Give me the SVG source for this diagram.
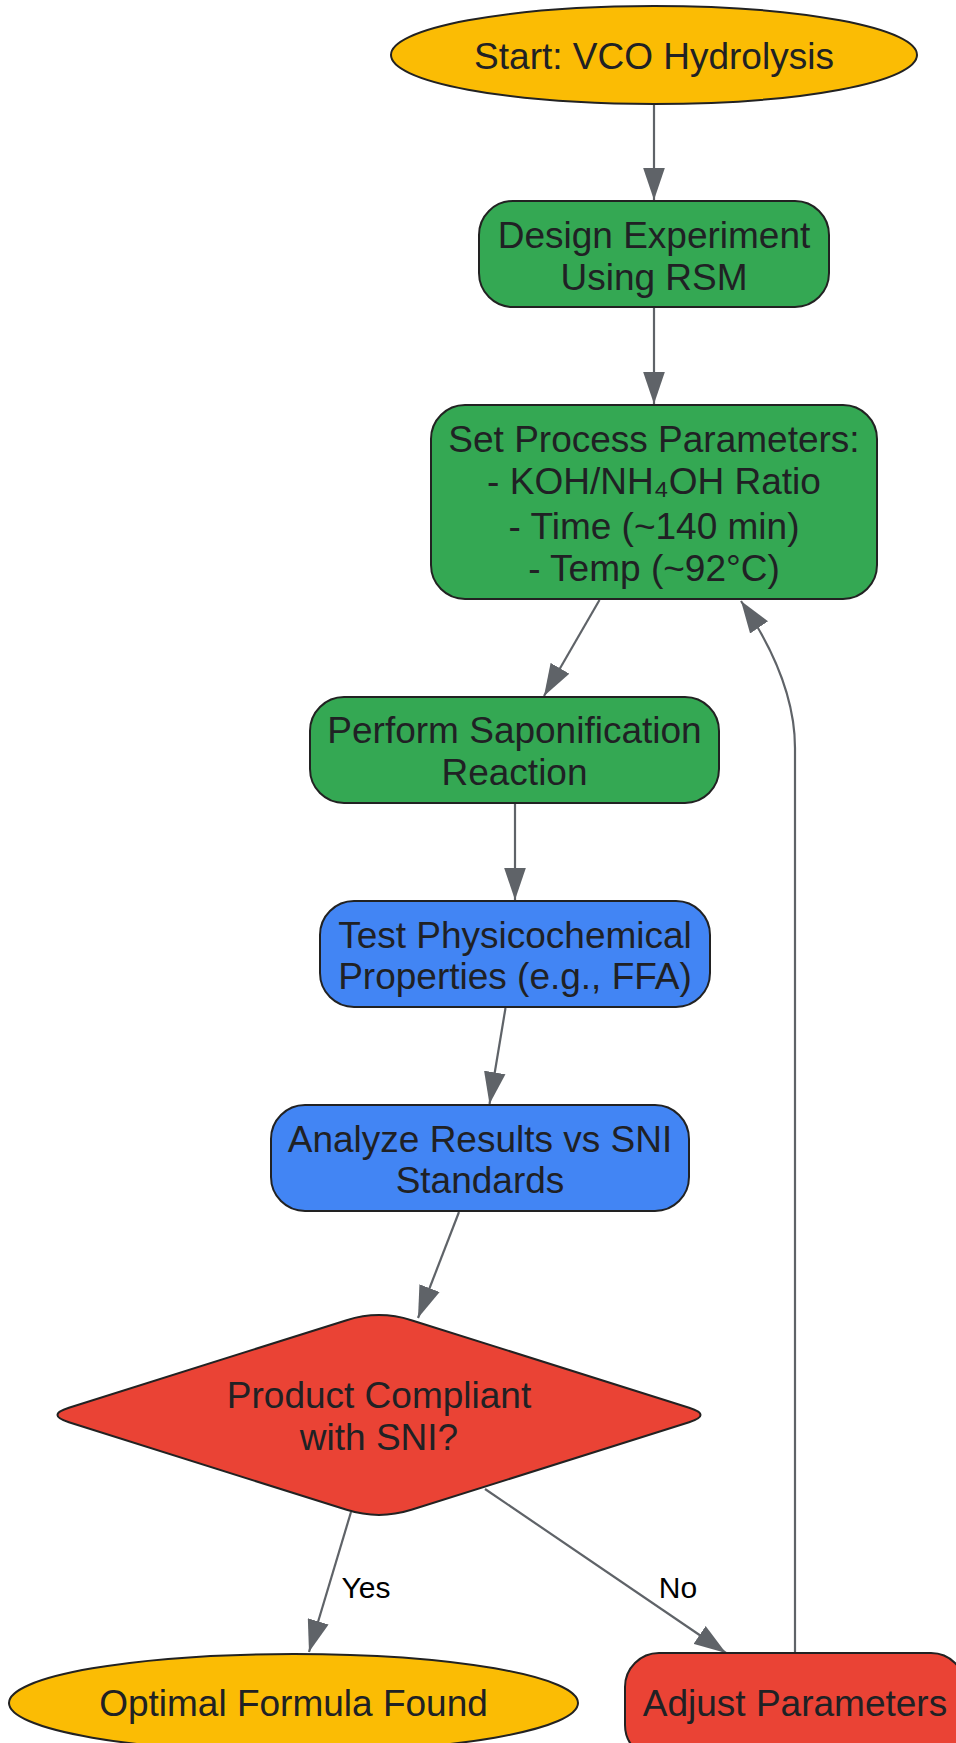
<svg xmlns="http://www.w3.org/2000/svg" width="956" height="1743" viewBox="0 0 956 1743">
<defs>
<style>
.n{stroke:#222222;stroke-width:2}
.y{fill:#FBBC04}.g{fill:#34A853}.b{fill:#4285F4}.r{fill:#EA4335}
.t{font-family:"Liberation Sans",Arial,sans-serif;font-size:37px;fill:#202124;text-anchor:middle}
.l{font-family:"Liberation Sans",Arial,sans-serif;font-size:30px;fill:#000000;text-anchor:middle}
.e{fill:none;stroke:#5F6368;stroke-width:2.2}
</style>
<marker id="ah" markerUnits="userSpaceOnUse" markerWidth="32" markerHeight="22" viewBox="0 0 31 21" refX="31" refY="10.5" orient="auto">
<path d="M0,0 L31,10.5 L0,21 z" fill="#5F6368"/>
</marker>
</defs>
<rect width="956" height="1743" fill="#ffffff"/>
<g id="connectors">
<path class="e" d="M654,104 V200" marker-end="url(#ah)"/>
<path class="e" d="M654,307 V404" marker-end="url(#ah)"/>
<path class="e" d="M599.5,600 L544,696" marker-end="url(#ah)"/>
<path class="e" d="M515,803 V900" marker-end="url(#ah)"/>
<path class="e" d="M505.5,1008 L489.5,1104" marker-end="url(#ah)"/>
<path class="e" d="M459,1212 L418,1318" marker-end="url(#ah)"/>
<path class="e" d="M351,1512 L309,1652" marker-end="url(#ah)"/>
<path class="e" d="M485,1489 L726,1653" marker-end="url(#ah)"/>
<path class="e" d="M795,1653 V748 Q795,680 741,601" marker-end="url(#ah)"/>
<text class="l" x="366" y="1598">Yes</text>
<text class="l" x="678" y="1598">No</text>
</g>
<g id="start">
<ellipse class="n y" cx="654" cy="55" rx="263" ry="49"/>
<text class="t" x="654" y="69">Start: VCO Hydrolysis</text>
</g>
<g id="design">
<rect class="n g" x="479" y="201" width="350" height="106" rx="34"/>
<text class="t" x="654" y="248">Design Experiment</text>
<text class="t" x="654" y="290">Using RSM</text>
</g>
<g id="setparams">
<rect class="n g" x="431" y="405" width="446" height="194" rx="34"/>
<text class="t" x="654" y="452">Set Process Parameters:</text>
<text class="t" x="654" y="494">- KOH/NH₄OH Ratio</text>
<text class="t" x="654" y="539">- Time (~140 min)</text>
<text class="t" x="654" y="581">- Temp (~92°C)</text>
</g>
<g id="perform">
<rect class="n g" x="310" y="697" width="409" height="106" rx="34"/>
<text class="t" x="514.5" y="743">Perform Saponification</text>
<text class="t" x="514.5" y="785">Reaction</text>
</g>
<g id="test">
<rect class="n b" x="320" y="901" width="390" height="106" rx="34"/>
<text class="t" x="515" y="948">Test Physicochemical</text>
<text class="t" x="515" y="989">Properties (e.g., FFA)</text>
</g>
<g id="analyze">
<rect class="n b" x="271" y="1105" width="418" height="106" rx="34"/>
<text class="t" x="480" y="1152">Analyze Results vs SNI</text>
<text class="t" x="480" y="1193">Standards</text>
</g>
<g id="decision">
<path class="n r" d="M411.4,1320.2 L689.1,1407.8 Q712,1415 689.1,1422.2 L411.4,1509.8 Q379,1520 346.6,1509.8 L68.9,1422.2 Q46,1415 68.9,1407.8 L346.6,1320.2 Q379,1310 411.4,1320.2 Z"/>
<text class="t" x="379" y="1408">Product Compliant</text>
<text class="t" x="379" y="1450">with SNI?</text>
</g>
<g id="optimal">
<ellipse class="n y" cx="293.5" cy="1703" rx="284.5" ry="49"/>
<text class="t" x="293.5" y="1716">Optimal Formula Found</text>
</g>
<g id="adjust">
<rect class="n r" x="625" y="1653" width="340" height="106" rx="34"/>
<text class="t" x="795" y="1716">Adjust Parameters</text>
</g>
</svg>
